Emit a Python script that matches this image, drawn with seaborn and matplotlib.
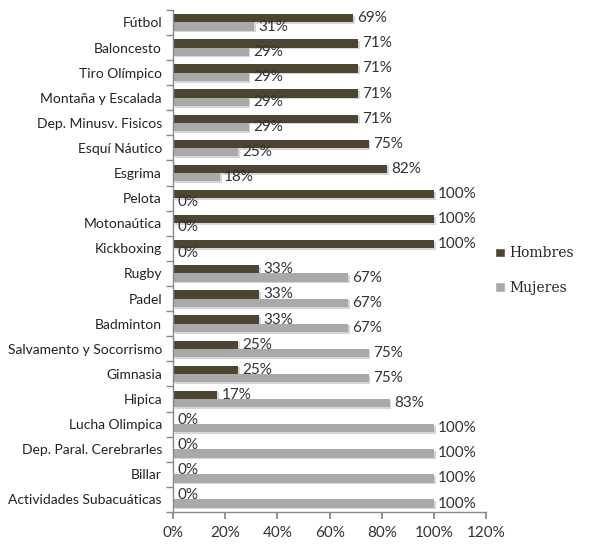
import matplotlib
matplotlib.use("Agg")
import matplotlib.pyplot as plt
import matplotlib.patheffects as pe
from matplotlib.patches import Patch
import seaborn as sns
import pandas as pd
import numpy as np

categories = ["Fútbol", "Baloncesto", "Tiro Olímpico", "Montaña y Escalada",
              "Dep. Minusv. Fisicos", "Esquí Náutico", "Esgrima", "Pelota",
              "Motonaútica", "Kickboxing", "Rugby", "Padel", "Badminton",
              "Salvamento y Socorrismo", "Gimnasia", "Hipica", "Lucha Olimpica",
              "Dep. Paral. Cerebrarles", "Billar", "Actividades Subacuáticas"]
hombres = [69, 71, 71, 71, 71, 75, 82, 100, 100, 100, 33, 33, 33, 25, 25, 17, 0, 0, 0, 0]
mujeres = [31, 29, 29, 29, 29, 25, 18, 0, 0, 0, 67, 67, 67, 75, 75, 83, 100, 100, 100, 100]
series = ["Hombres", "Mujeres"]
xticks = [0, 20, 40, 60, 80, 100, 120]

df = pd.DataFrame({
    "Deporte": categories * 2,
    "Valor": hombres + mujeres,
    "Sexo": [series[0]] * len(categories) + [series[1]] * len(categories),
})

sns.set_theme(style="white")
plt.rcParams["font.family"] = ["Lato", "DejaVu Sans"]

fig = plt.figure(figsize=(6.07, 5.47), dpi=100)
ax = fig.add_axes([0.285, 0.064, 0.516, 0.918])

sns.barplot(data=df, y="Deporte", x="Valor", hue="Sexo", hue_order=series,
            order=categories, palette=["#4d4531", "#a9a9a9"], orient="h",
            width=0.66, ax=ax, legend=False, saturation=1, edgecolor="none")

shadow = [pe.SimplePatchShadow(offset=(1.2, -1.2), shadow_rgbFace="#bbbbbb", alpha=0.6), pe.Normal()]
for i, cont in enumerate(ax.containers):
    for p in cont.patches:
        p.set_path_effects(shadow)
    ax.bar_label(cont, labels=[f"{v:.0f}%" for v in cont.datavalues], padding=3,
                 fontsize=11, color="#333333")

ax.set_xlim(0, 120)
ax.set_ylim(len(categories) - 0.5, -0.5)
ax.set_xticks(xticks)
ax.set_xticklabels([f"{t}%" for t in xticks], fontsize=11, color="#333333")
ax.set_yticks(range(len(categories)))
ax.set_yticklabels(categories, fontsize=10, color="#222222")
ax.set_xlabel("")
ax.set_ylabel("")
ax.tick_params(axis="y", length=0, pad=8)
ax.tick_params(axis="x", length=5, color="#888888", direction="out", pad=5, bottom=True)
ax.set_yticks(np.arange(-0.5, len(categories), 1), minor=True)
ax.tick_params(axis="y", which="minor", length=5, color="#888888", direction="out", left=True)
for s in ["top", "right"]:
    ax.spines[s].set_visible(False)
for s in ["left", "bottom"]:
    ax.spines[s].set_color("#888888")
    ax.spines[s].set_linewidth(1)

handles = [Patch(facecolor="#4d4531"), Patch(facecolor="#a9a9a9")]
fig.legend(handles, series, loc="center left", bbox_to_anchor=(0.795, 0.505),
           frameon=False, handlelength=0.7, handleheight=0.7, handletextpad=0.3,
           labelspacing=1.5, prop={"family": "DejaVu Serif", "size": 10})

fig.savefig("out.png", dpi=100)
